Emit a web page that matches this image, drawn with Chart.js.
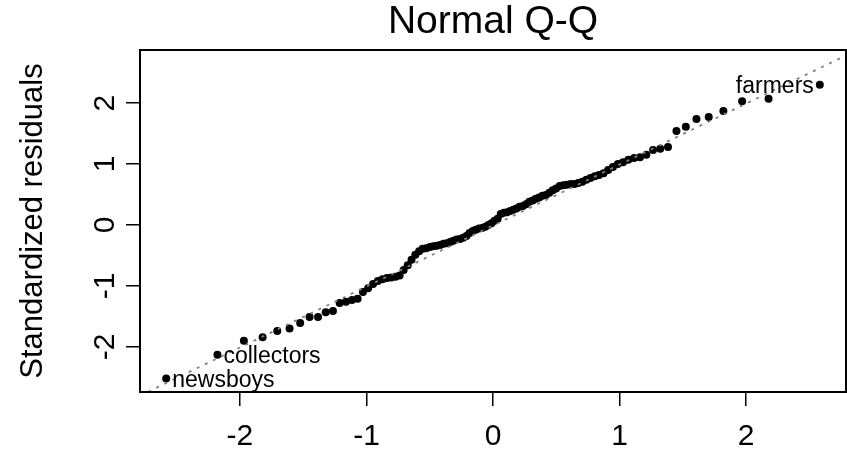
<!DOCTYPE html>
<html>
<head>
<meta charset="utf-8">
<script src="https://cdn.jsdelivr.net/npm/chart.js@4.4.1/dist/chart.umd.min.js"></script>
<style>
html, body { margin: 0; padding: 0; background: #fff; overflow: hidden; }
#wrap { width: 850px; height: 460px; }
</style>
</head>
<body>
<div id="wrap"><canvas id="qqplot"></canvas></div>
<script>
// theoretical quantiles (x) and standardized residuals (y)
const theoretical = [
	-2.583, -2.178, -1.969, -1.821, -1.705, -1.608, -1.524, -1.450, -1.383, -1.322,
	-1.265, -1.212, -1.162, -1.115, -1.070, -1.028, -0.987, -0.948, -0.910, -0.874,
	-0.838, -0.804, -0.770, -0.738, -0.706, -0.674, -0.644, -0.614, -0.584, -0.556,
	-0.527, -0.499, -0.472, -0.445, -0.418, -0.391, -0.365, -0.339, -0.313, -0.287,
	-0.261, -0.236, -0.210, -0.185, -0.160, -0.136, -0.111, -0.086, -0.061, -0.037,
	-0.012, 0.012, 0.037, 0.061, 0.086, 0.111, 0.136, 0.160, 0.185, 0.210,
	0.236, 0.261, 0.287, 0.313, 0.339, 0.365, 0.391, 0.418, 0.445, 0.472,
	0.499, 0.527, 0.556, 0.584, 0.614, 0.644, 0.674, 0.706, 0.738, 0.770,
	0.804, 0.838, 0.874, 0.910, 0.948, 0.987, 1.028, 1.070, 1.115, 1.162,
	1.212, 1.265, 1.322, 1.383, 1.450, 1.524, 1.608, 1.705, 1.821, 1.969,
	2.178, 2.583
];
const residuals = [
	-2.52, -2.13, -1.90, -1.84, -1.74, -1.70, -1.61, -1.51, -1.51, -1.43,
	-1.41, -1.28, -1.26, -1.23, -1.21, -1.10, -1.04, -0.97, -0.92, -0.89,
	-0.87, -0.86, -0.85, -0.83, -0.74, -0.66, -0.57, -0.49, -0.43, -0.39,
	-0.38, -0.36, -0.35, -0.34, -0.33, -0.31, -0.30, -0.28, -0.26, -0.24,
	-0.23, -0.21, -0.18, -0.13, -0.10, -0.08, -0.06, -0.05, -0.03, 0.00,
	0.03, 0.07, 0.10, 0.18, 0.20, 0.21, 0.23, 0.25, 0.27, 0.30,
	0.31, 0.34, 0.38, 0.40, 0.43, 0.45, 0.48, 0.49, 0.53, 0.57,
	0.60, 0.64, 0.65, 0.66, 0.67, 0.67, 0.69, 0.71, 0.74, 0.77,
	0.80, 0.82, 0.85, 0.90, 0.95, 1.00, 1.03, 1.07, 1.10, 1.11,
	1.15, 1.23, 1.25, 1.28, 1.54, 1.61, 1.74, 1.77, 1.87, 2.03,
	2.07, 2.30
];
const xTicks = [-2, -1, 0, 1, 2];
const yTicks = [-2, -1, 0, 1, 2];
const idNames = ['newsboys', 'collectors', 'farmers'];
const idPoints = [0, 1, 101];
const qqIntercept = -0.01;
const qqSlope = 1.0;
const xLim = [-2.79, 2.79];
const yLim = [-2.74, 2.87];
const mainTitle = 'Normal Q-Q';
const yTitle = 'Standardized residuals';

const FONT = "'Liberation Sans', Arial, sans-serif";

const points = theoretical.map((x, i) => ({ x: x, y: residuals[i] }));
const qqLine = xLim.map(x => ({ x: x, y: qqIntercept + qqSlope * x }));

const rPlot = {
	id: 'rPlot',
	afterDraw(chart) {
		const ctx = chart.ctx;
		const a = chart.chartArea;
		ctx.save();
		// box round the plot
		ctx.strokeStyle = '#000';
		ctx.lineWidth = 2;
		ctx.strokeRect(a.left, a.top, a.right - a.left, a.bottom - a.top);

		// title, centred over the plot region like R's mtext
		ctx.fillStyle = '#000';
		ctx.font = '39px ' + FONT;
		ctx.textAlign = 'center';
		ctx.textBaseline = 'alphabetic';
		ctx.fillText(mainTitle, (a.left + a.right) / 2, a.top - 17);

		// y tick labels, turned like R does
		const ys = chart.scales.y;
		ctx.font = '30px ' + FONT;
		ctx.textBaseline = 'middle';
		yTicks.forEach(v => {
			ctx.save();
			ctx.translate(a.left - 34, ys.getPixelForValue(v));
			ctx.rotate(-Math.PI / 2);
			ctx.fillText(String(v), 0, 0);
			ctx.restore();
		});

		// point labels
		const meta = chart.getDatasetMeta(1);
		ctx.font = '23px ' + FONT;
		idPoints.forEach((idx, k) => {
			const p = meta.data[idx];
			if (theoretical[idx] < 0) {
				ctx.textAlign = 'left';
				ctx.fillText(idNames[k], p.x + 6, p.y + 2);
			} else {
				ctx.textAlign = 'right';
				ctx.fillText(idNames[k], p.x - 6, p.y + 2);
			}
		});
		ctx.restore();
	}
};

new Chart(document.getElementById('qqplot'), {
	type: 'scatter',
	data: {
		datasets: [{
			type: 'line',
			data: qqLine,
			borderColor: '#808080',
			borderWidth: 1.8,
			borderDash: [3, 6],
			pointRadius: 0,
			fill: false,
		}, {
			data: points,
			backgroundColor: '#000',
			borderColor: '#000',
			pointRadius: 4,
			borderWidth: 0,
		}]
	},
	options: {
		responsive: true,
		maintainAspectRatio: false,
		animation: false,
		layout: { padding: { left: 0, right: 1, top: 50, bottom: 0 } },
		plugins: {
			legend: { display: false },
			tooltip: { enabled: false },
			title: { display: false },
		},
		scales: {
			x: {
				type: 'linear',
				min: xLim[0],
				max: xLim[1],
				afterBuildTicks: s => { s.ticks = xTicks.map(v => ({ value: v })); },
				afterFit: s => { s.height = 68; },
				border: { display: false },
				grid: { drawOnChartArea: false, drawTicks: true, tickLength: 14, color: '#000', lineWidth: 1.5 },
				ticks: { color: '#000', padding: 13, font: { family: FONT, size: 30 }, maxRotation: 0 },
			},
			y: {
				type: 'linear',
				min: yLim[0],
				max: yLim[1],
				afterBuildTicks: s => { s.ticks = yTicks.map(v => ({ value: v })); },
				afterFit: s => { s.width = 140; },
				border: { display: false },
				grid: { drawOnChartArea: false, drawTicks: true, tickLength: 14, color: '#000', lineWidth: 1.5 },
				ticks: { color: 'rgba(0,0,0,0)', font: { family: FONT, size: 30 } },
				title: {
					display: true,
					text: yTitle,
					color: '#000',
					font: { family: FONT, size: 31 },
					padding: { top: 15, bottom: 0 },
				},
			},
		},
	},
	plugins: [rPlot]
});
</script>
</body>
</html>
